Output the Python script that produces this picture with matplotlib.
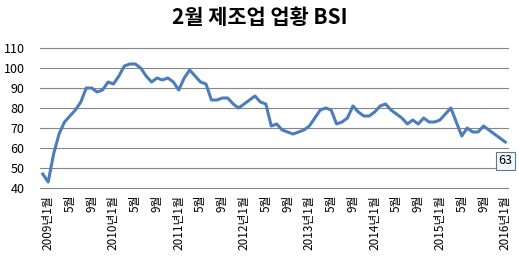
import matplotlib
matplotlib.use("Agg")
import matplotlib.pyplot as plt

plt.rcParams['font.family'] = ['Noto Sans CJK KR', 'DejaVu Sans']

# monthly manufacturing BSI, 2008.12 - 2016.01
bsi = [47,
       43, 57, 67, 73, 76, 79, 83, 90, 90, 88, 89, 93,
       92, 96, 101, 102, 102, 100, 96, 93, 95, 94, 95, 93,
       89, 95, 99, 96, 93, 92, 84, 84, 85, 85, 82, 80,
       82, 84, 86, 83, 82, 71, 72, 69, 68, 67, 68, 69,
       71, 75, 79, 80, 79, 72, 73, 75, 81, 78, 76, 76,
       78, 81, 82, 79, 77, 75, 72, 74, 72, 75, 73, 73,
       74, 77, 80, 73, 66, 70, 68, 68, 71, 69, 67, 65,
       63]

tick_pos = [1, 5, 9, 13, 17, 21, 25, 29, 33, 37, 41, 45, 49, 53, 57,
            61, 65, 69, 73, 77, 81, 85]
tick_labels = ["2009년1월", "5월", "9월", "2010년1월", "5월", "9월",
               "2011년1월", "5월", "9월", "2012년1월", "5월", "9월",
               "2013년1월", "5월", "9월", "2014년1월", "5월", "9월",
               "2015년1월", "5월", "9월", "2016년1월"]
y_ticks = [40, 50, 60, 70, 80, 90, 100, 110]

fig = plt.figure(figsize=(5.19, 2.63), dpi=100)
ax = fig.add_axes([40/519, 1-188/263, 468/519, 140/263])

for yv in y_ticks:
    ax.axhline(yv, color="#868686", lw=0.8, zorder=0, clip_on=False)

ax.plot(range(len(bsi)), bsi, color="#4A7EBB", lw=2.2, zorder=3,
        solid_joinstyle="round", clip_on=False)

ax.annotate(str(bsi[-1]), xy=(len(bsi)-1, bsi[-1]), xytext=(0, -13.5),
            textcoords="offset points", ha="center", va="center",
            fontsize=9, annotation_clip=False,
            bbox=dict(boxstyle="square,pad=0.22", fc="#F3F6FB",
                      ec="#5A7796", lw=0.8))

ax.set_xlim(-0.5, len(bsi)-0.5)
ax.set_ylim(40, 110)
ax.set_yticks(y_ticks)
ax.set_yticklabels([str(v) for v in y_ticks], fontsize=9)
ax.set_xticks(tick_pos)
ax.set_xticklabels(tick_labels, rotation=90, fontsize=8.5, va="top", ha="center")
ax.tick_params(axis="both", length=0)
ax.tick_params(axis="y", pad=11)
ax.tick_params(axis="x", pad=5)
for s in ax.spines.values():
    s.set_visible(False)

fig.text(0.5, 1-17/263, "2월 제조업 업황 BSI", ha="center", va="center",
         fontsize=15, fontweight="bold")

fig.savefig("out.png", dpi=100)
